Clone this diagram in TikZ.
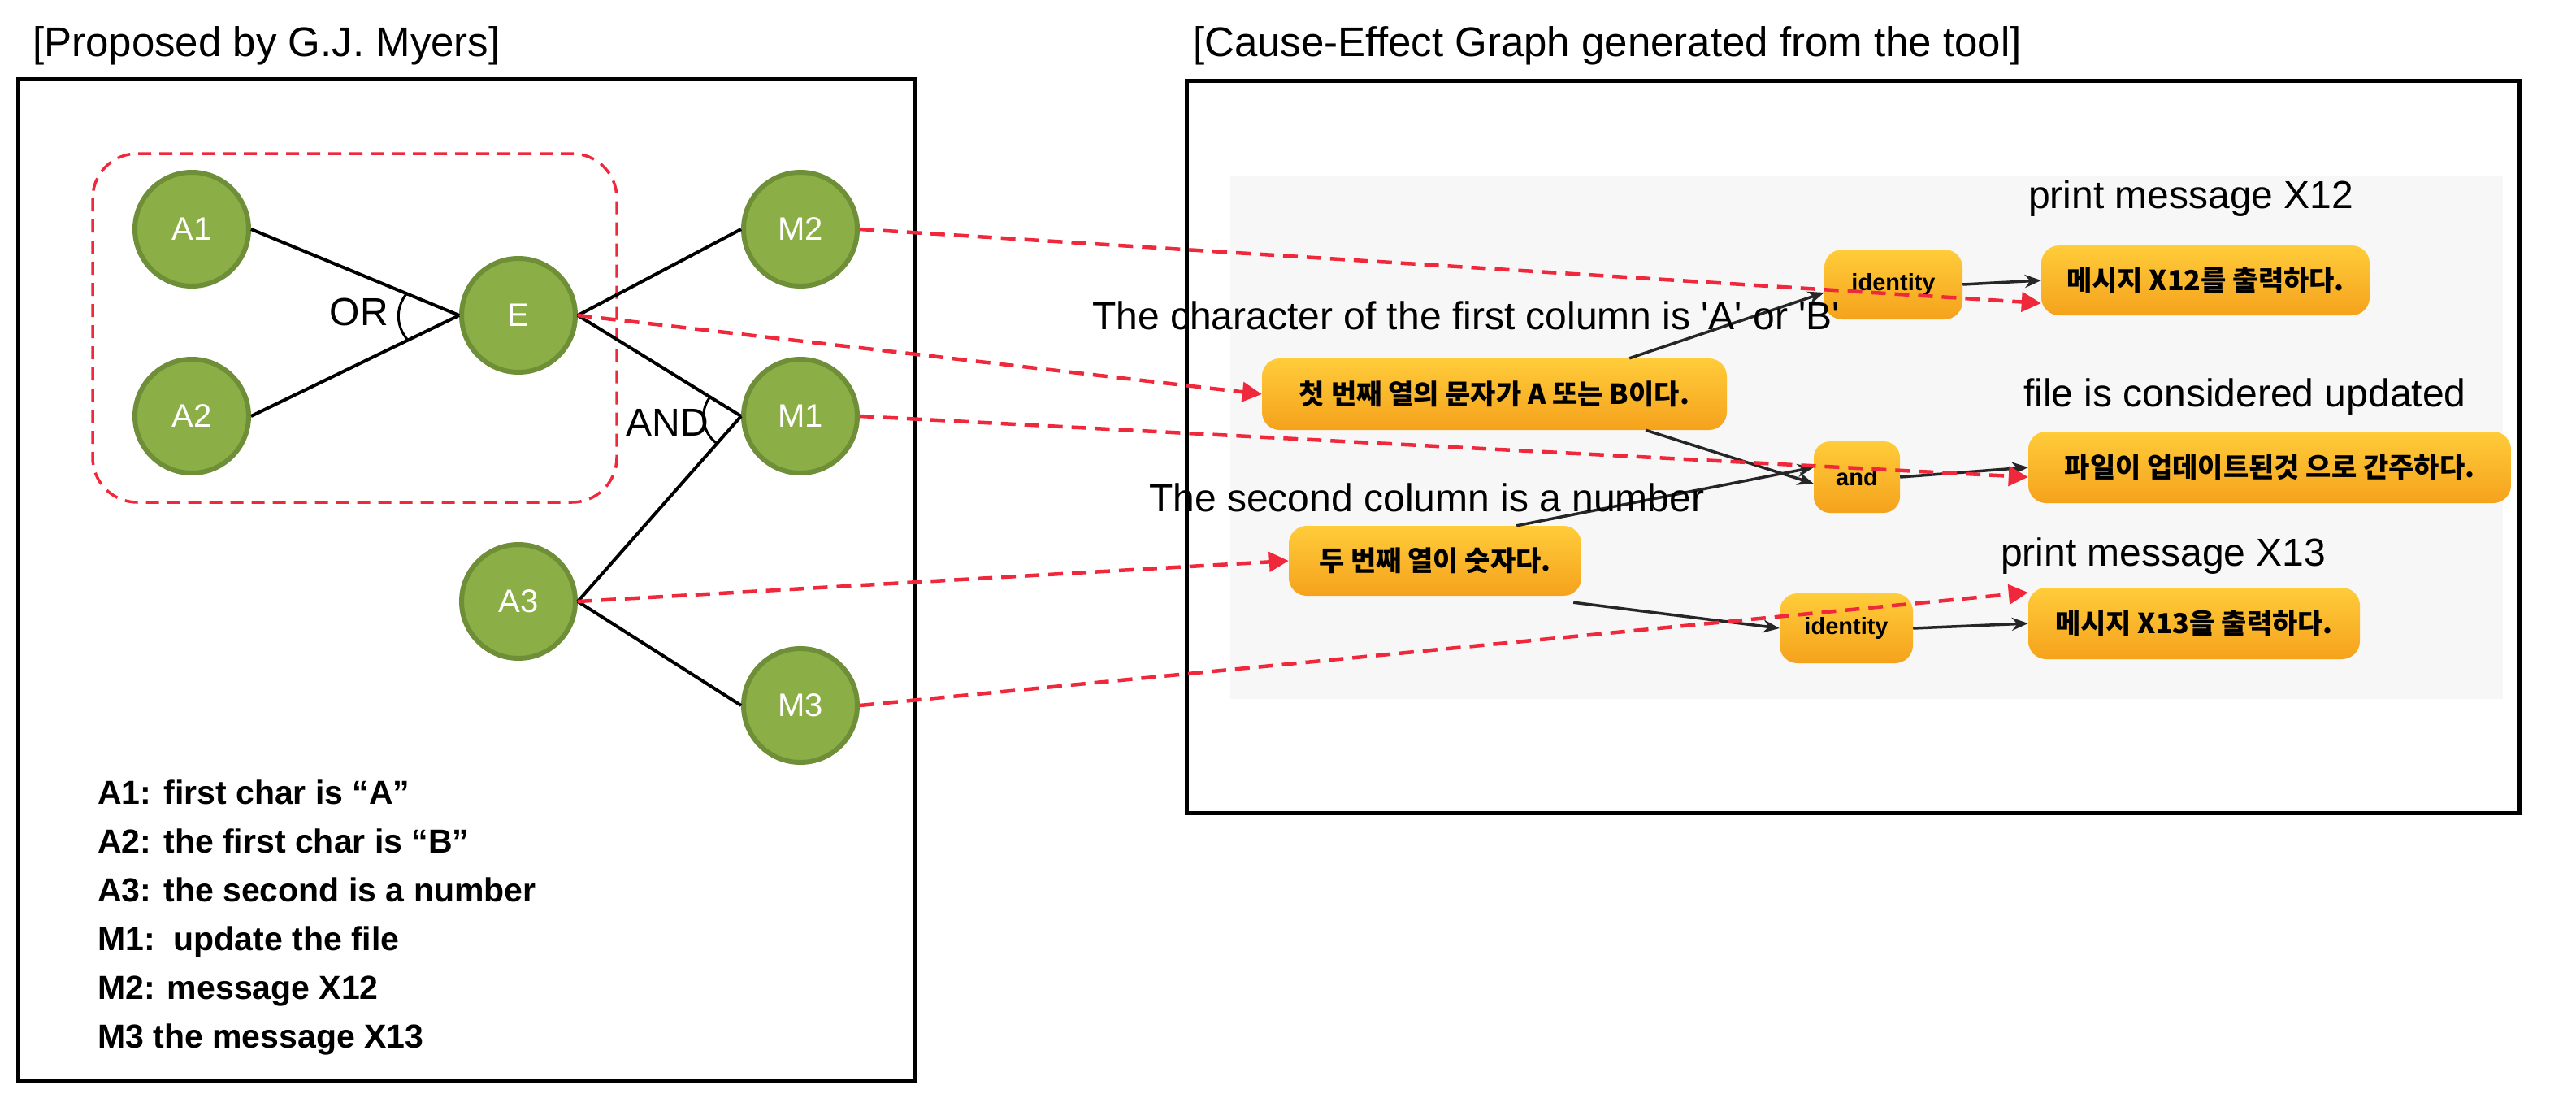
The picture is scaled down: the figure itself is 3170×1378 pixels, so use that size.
\documentclass[tikz,border=0pt]{standalone}
\usepackage{fontspec}
\setmainfont{Liberation Sans}
\newfontfamily\kr{Noto Sans CJK KR}
\usetikzlibrary{calc,arrows.meta,shapes.geometric}
\definecolor{gfill}{HTML}{8BAE46}
\definecolor{gdraw}{HTML}{6E8E38}
\definecolor{ortop}{HTML}{FFCC3A}
\definecolor{orbot}{HTML}{F5A21C}
\definecolor{rdash}{HTML}{F0283C}
\definecolor{bgg}{HTML}{F7F7F7}
\begin{document}
\begin{tikzpicture}[x=1pt,y=-1pt,
  circ/.style={circle,fill=gfill,draw=gdraw,line width=6pt,minimum size=140pt,inner sep=0pt,text=white,font=\fontsize{40}{40}\selectfont},
  conn/.style={line width=4pt,black},
  onode/.style={rounded corners=22pt,top color=ortop,bottom color=orbot,draw=none,inner sep=0pt,font=\kr\bfseries\fontsize{34}{34}\selectfont},
  lbl/.style={font=\fontsize{48}{48}\selectfont,inner sep=0pt},
  ttl/.style={font=\fontsize{51}{51}\selectfont,inner sep=0pt},
  barr/.style={line width=3.5pt,black!85,-{Stealth[length=20pt,width=16pt]}},
  rarr/.style={line width=4.5pt,rdash,dash pattern=on 18pt off 11pt,-{Triangle[length=24pt,width=24pt]}}]
\useasboundingbox (0,0) rectangle (3170,1378);
% titles
\node[ttl,anchor=west] (t1) at (40,56) {[Proposed by G.J. Myers]};
\node[ttl,anchor=west] (t2) at (1468,56) {[Cause-Effect Graph generated from the tool]};
% frames
\draw[line width=5pt] (22,98) rectangle (1126,1330);
\draw[line width=5pt] (1460,100) rectangle (3100,1000);
\fill[bgg] (1514,216) rectangle (3080,860);
% dashed group
\draw[rdash,line width=3.5pt,dash pattern=on 16pt off 10pt,rounded corners=55pt] (114,189) rectangle (759,618);
% circles
\node[circ] (A1) at (236,282) {A1};
\node[circ] (A2) at (236,512) {A2};
\node[circ] (E) at (638,388) {E};
\node[circ] (M2) at (985,282) {M2};
\node[circ] (M1) at (985,512) {M1};
\node[circ] (A3) at (638,740) {A3};
\node[circ] (M3) at (985,868) {M3};
\draw[conn] (A1.east) -- (E.west);
\draw[conn] (A2.east) -- (E.west);
\draw[conn] (E.east) -- (M2.west);
\draw[conn] (E.east) -- (M1.west);
\draw[conn] (A3.east) -- (M1.west);
\draw[conn] (A3.east) -- (M3.west);
\draw[line width=3pt] ($(E.west)!70pt!(A1.east)$) to[bend right=40] ($(E.west)!70pt!(A2.east)$);
\draw[line width=3pt] ($(M1.west)!45pt!(E.east)$) to[bend right=45] ($(M1.west)!45pt!(A3.east)$);
\node[lbl,anchor=east] (or) at (478,384) {OR};
\node[lbl,anchor=east] (and) at (872,520) {AND};
% legend
\node[anchor=north west,align=left,inner sep=0pt,font=\bfseries\fontsize{41}{60}\selectfont] (leg) at (120,960) {A1: first char is “A”\\A2: the first char is “B”\\A3: the second is a number\\M1:\ \ update the file\\M2: message X12\\M3 the message X13};
% right graph
\node[onode,minimum width=170pt,minimum height=86pt,font=\bfseries\fontsize{29}{29}\selectfont] (id1) at (2330,350) {identity};
\node[onode,minimum width=404pt,minimum height=86pt] (x12) at (2714,345) {메시지 X12를 출력하다.};
\node[onode,minimum width=572pt,minimum height=88pt] (first) at (1839,485) {첫 번째 열의 문자가 A 또는 B이다.};
\node[onode,minimum width=106pt,minimum height=88pt,rounded corners=20pt,font=\bfseries\fontsize{29}{29}\selectfont] (and2) at (2285,587) {and};
\node[onode,minimum width=594pt,minimum height=88pt] (upd) at (2793,575) {파일이 업데이트된것 으로 간주하다.};
\node[onode,minimum width=360pt,minimum height=86pt] (second) at (1766,690) {두 번째 열이 숫자다.};
\node[onode,minimum width=164pt,minimum height=86pt,font=\bfseries\fontsize{29}{29}\selectfont] (id2) at (2272,773) {identity};
\node[onode,minimum width=408pt,minimum height=88pt] (x13) at (2700,767) {메시지 X13을 출력하다.};
\draw[barr] ([xshift=-120pt]first.north east) -- ([yshift=-10pt]id1.west);
\draw[barr] ([xshift=-100pt]first.south east) -- ([yshift=-8pt]and2.west);
\draw[barr] ([xshift=-80pt]second.north east) -- ([yshift=12pt]and2.west);
\draw[barr] ([xshift=-10pt,yshift=-8pt]second.south east) -- (id2.west);
\draw[barr] (id1.east) -- (x12.west);
\draw[barr] (and2.east) -- (upd.west);
\draw[barr] (id2.east) -- (x13.west);
\node[lbl,anchor=west] (l1) at (2496,244) {print message X12};
\node[lbl,anchor=west] (l2) at (1344,388) {The character of the first column is \textquotesingle A\textquotesingle\ or \textquotesingle B\textquotesingle};
\node[lbl,anchor=west] (l3) at (2490,488) {file is considered updated};
\node[lbl,anchor=west] (l4) at (1414,612) {The second column is a number};
\node[lbl,anchor=west] (l5) at (2462,684) {print message X13};
% red dashed arrows
\coordinate (c1) at ([yshift=-28pt]x12.west);
\coordinate (c3) at ([yshift=-12pt]upd.west);
\coordinate (c5) at ([yshift=38pt]x13.west);
\draw[rarr] (M2.east) -- (c1);
\draw[rarr] (E.east) -- (first.west);
\draw[rarr] (M1.east) -- (c3);
\draw[rarr] (A3.east) -- (second.west);
\draw[rarr] (M3.east) -- (c5);
\end{tikzpicture}
\end{document}
